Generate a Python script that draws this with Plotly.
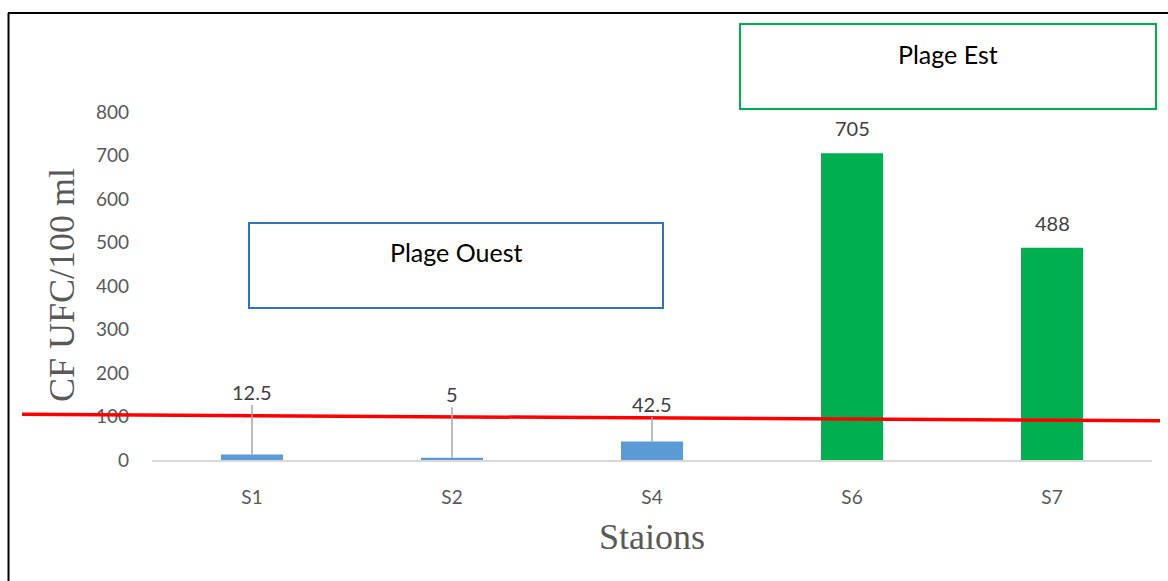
import plotly.graph_objects as go

# Stations and fecal coliform counts (CFU / 100 ml)
stations = ["S1", "S2", "S4", "S6", "S7"]
counts = [12.5, 5, 42.5, 705, 488]
beach = ["Ouest", "Ouest", "Ouest", "Est", "Est"]
label_texts = ["12.5", "5", "42.5", "705", "488"]

# Reference threshold line (start / end values)
threshold_start = 105
threshold_end = 90

y_ticks = [0, 100, 200, 300, 400, 500, 600, 700, 800]

# ---- styling ----
W, H = 1168, 581
L, R, T, B = 152, 16, 112, 121
colors = {"Ouest": "#5B9BD5", "Est": "#00B050"}
tick_font = dict(family="Lato, Open Sans, sans-serif", size=19, color="#595959")
label_font = dict(family="Lato, Open Sans, sans-serif", size=20, color="#404040")
title_font = dict(family="Liberation Serif, Times New Roman, serif", size=36, color="#595959")
box_font = dict(family="Lato, Open Sans, sans-serif", size=25, color="#000000")
# pixel offsets of labels above the bar tops; leader lines for the short bars
label_offsets = {"S1": 63, "S2": 64, "S4": 38, "S6": 25, "S7": 25}
leader = {"S1": True, "S2": True, "S4": True, "S6": False, "S7": False}

pw, ph = W - L - R, H - T - B


def px_x(p):
    return (p - L) / pw


def px_y(p):
    return (H - B - p) / ph


fig = go.Figure()
fig.add_trace(go.Bar(
    x=stations, y=counts,
    marker=dict(color=[colors[b] for b in beach], line=dict(width=0)),
    width=0.31, hoverinfo="x+y",
))

annotations = []
for s, v, t in zip(stations, counts, label_texts):
    if leader[s]:
        annotations.append(dict(
            x=s, y=v, xref="x", yref="y", text=t, font=label_font,
            showarrow=True, arrowhead=0, arrowwidth=1.5, arrowcolor="#A6A6A6",
            ax=0, ay=-label_offsets[s], standoff=0,
        ))
    else:
        annotations.append(dict(
            x=s, y=v, xref="x", yref="y", text=t, font=label_font,
            showarrow=False, yanchor="middle", yshift=label_offsets[s],
        ))

# axis titles
annotations.append(dict(
    x=px_x(62), y=px_y(285), xref="paper", yref="paper", text="CF UFC/100 ml",
    textangle=-90, font=title_font, showarrow=False,
    xanchor="center", yanchor="middle",
))
annotations.append(dict(
    x=px_x(652), y=px_y(537), xref="paper", yref="paper", text="Staions",
    font=title_font, showarrow=False, xanchor="center", yanchor="middle",
))

# beach boxes
annotations.append(dict(
    x=px_x(456), y=px_y(252), xref="paper", yref="paper", text="Plage Ouest",
    font=box_font, showarrow=False, xanchor="center", yanchor="middle",
))
annotations.append(dict(
    x=px_x(948), y=px_y(54), xref="paper", yref="paper", text="Plage Est",
    font=box_font, showarrow=False, xanchor="center", yanchor="middle",
))

shapes = [
    dict(type="rect", xref="paper", yref="paper",
         x0=px_x(249), x1=px_x(663), y0=px_y(308), y1=px_y(223),
         line=dict(color="#2E75B6", width=2), fillcolor="rgba(255,255,255,0)", layer="above"),
    dict(type="rect", xref="paper", yref="paper",
         x0=px_x(740), x1=px_x(1156), y0=px_y(109), y1=px_y(24),
         line=dict(color="#00B050", width=2), fillcolor="rgba(255,255,255,0)", layer="above"),
    # threshold line
    dict(type="line", xref="paper", yref="y",
         x0=px_x(22), x1=px_x(1160), y0=threshold_start, y1=threshold_end,
         line=dict(color="#FF0000", width=3.5), layer="above"),
    # outer frame (left and top edges)
    dict(type="line", xref="paper", yref="paper",
         x0=px_x(8.5), x1=px_x(8.5), y0=px_y(13), y1=px_y(600),
         line=dict(color="#000000", width=2)),
    dict(type="line", xref="paper", yref="paper",
         x0=px_x(8), x1=px_x(1180), y0=px_y(13), y1=px_y(13),
         line=dict(color="#000000", width=2)),
]

fig.update_layout(
    width=W, height=H,
    margin=dict(l=L, r=R, t=T, b=B),
    paper_bgcolor="white", plot_bgcolor="white",
    showlegend=False,
    annotations=annotations,
    shapes=shapes,
    bargap=0.69,
)
fig.update_xaxes(
    type="category", range=[-0.5, 4.5],
    showline=True, linecolor="#D9D9D9", linewidth=1.5,
    showgrid=False, zeroline=False, ticks="",
    tickfont=tick_font, ticklabelstandoff=19,
)
fig.update_yaxes(
    range=[0, 800], tickvals=y_ticks,
    showline=False, showgrid=False, zeroline=False, ticks="",
    tickfont=tick_font, ticklabelstandoff=22,
)

fig.write_html("out.html")
